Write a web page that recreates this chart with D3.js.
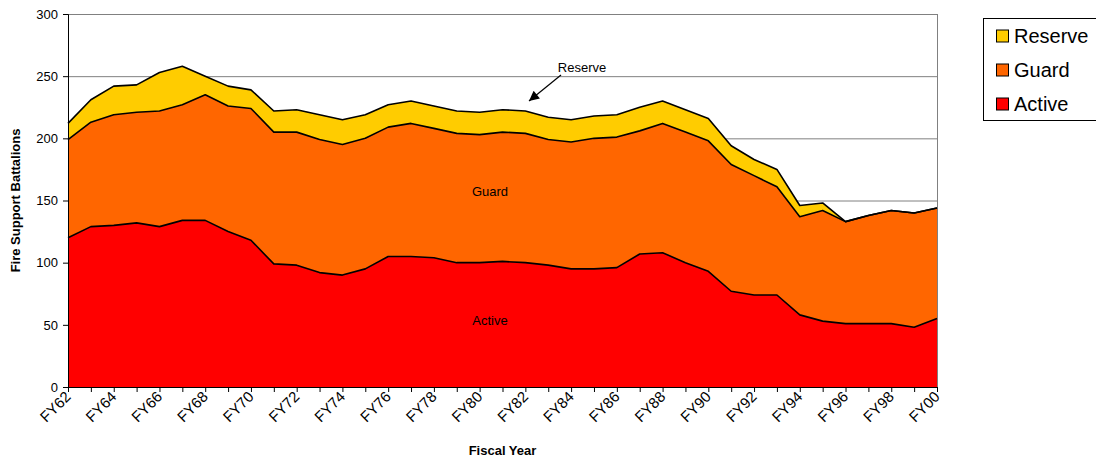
<!DOCTYPE html>
<html>
<head>
<meta charset="utf-8">
<script src="https://cdn.jsdelivr.net/npm/d3@7"></script>
<style>
  html, body { margin: 0; padding: 0; background: #fff; }
  svg { display: block; font-family: Arial, "Liberation Sans", sans-serif; }
</style>
</head>
<body>
<svg id="chart" width="1096" height="460"></svg>
<script>
const years = ["FY62","FY63","FY64","FY65","FY66","FY67","FY68","FY69","FY70","FY71",
  "FY72","FY73","FY74","FY75","FY76","FY77","FY78","FY79","FY80","FY81",
  "FY82","FY83","FY84","FY85","FY86","FY87","FY88","FY89","FY90","FY91",
  "FY92","FY93","FY94","FY95","FY96","FY97","FY98","FY99","FY00"];
const active = [120,129,130,132,129,134,134,125,118,99,
  98,92,90,95,105,105,104,100,100,101,
  100,98,95,95,96,107,108,100,93,77,
  74,74,58,53,51,51,51,48,55];
const guard = [79,84,89,89,93,93,101,101,106,106,
  107,107,105,105,104,107,104,104,103,104,
  104,101,102,105,105,99,104,105,105,102,
  96,87,79,89,82,87,91,92,89];
const reserve = [13,18,23,22,31,31,15,16,15,17,
  18,20,20,19,18,18,18,18,18,18,
  18,18,18,18,18,19,18,18,18,15,
  13,14,9,6,0,0,0,0,0];
const seriesNames = ["Active","Guard","Reserve"];
const seriesColors = ["#FF0000","#FF6600","#FFCC00"];
const yTicks = [0,50,100,150,200,250,300];
const xLabelYears = years.filter((d,i) => i % 2 === 0);

const svg = d3.select("#chart");
const L = 68, R = 937, T = 14, B = 387;

const x = d3.scalePoint().domain(years).range([L, R]);
const y = d3.scaleLinear().domain([0, 300]).range([B, T]);

const rows = years.map((yr, i) => ({year: yr, Active: active[i], Guard: guard[i], Reserve: reserve[i]}));
const stacked = d3.stack().keys(seriesNames)(rows);

// gridlines
svg.append("g").selectAll("line").data(yTicks.filter(v => v > 0)).join("line")
  .attr("x1", L).attr("x2", R)
  .attr("y1", d => y(d) + 0.5).attr("y2", d => y(d) + 0.5)
  .attr("stroke", "#808080").attr("stroke-width", 1);
svg.append("line").attr("x1", R + 0.5).attr("x2", R + 0.5).attr("y1", T).attr("y2", B)
  .attr("stroke", "#808080").attr("stroke-width", 1);

// areas
const area = d3.area().x(d => x(d.data.year)).y0(d => y(d[0])).y1(d => y(d[1]));
const topLine = d3.line().x(d => x(d.data.year)).y(d => y(d[1]));
const gA = svg.append("g");
stacked.forEach((s, k) => {
  gA.append("path").attr("d", area(s)).attr("fill", seriesColors[k]);
});
stacked.forEach((s, k) => {
  gA.append("path").attr("d", topLine(s)).attr("fill", "none")
    .attr("stroke", "#000").attr("stroke-width", 1.6).attr("stroke-linejoin", "round");
});

// axes
const yAxis = d3.axisLeft(y).tickValues(yTicks).tickSize(5).tickPadding(5).tickFormat(d3.format("d"));
const gy = svg.append("g").attr("transform", `translate(${L},0)`).call(yAxis);
gy.select(".domain").attr("stroke", "#000");
gy.selectAll("text").attr("font-size", 13).attr("font-family", "Arial, 'Liberation Sans', sans-serif").attr("fill", "#000");

const xAxis = d3.axisBottom(x).tickSize(5).tickFormat("");
const gx = svg.append("g").attr("transform", `translate(0,${B})`).call(xAxis);
gx.select(".domain").attr("stroke", "#000");

svg.append("g").selectAll("text").data(xLabelYears).join("text")
  .attr("transform", d => `translate(${x(d)},${B + 7}) rotate(-45)`)
  .attr("text-anchor", "end").attr("dy", "0.35em")
  .attr("font-size", 15).attr("fill", "#000")
  .text(d => d);

// axis titles
svg.append("text").attr("x", (L + R) / 2).attr("y", 455).attr("text-anchor", "middle")
  .attr("font-size", 13).attr("font-weight", "bold").text("Fiscal Year");
svg.append("text").attr("transform", `translate(20,${(T + B) / 2}) rotate(-90)`)
  .attr("text-anchor", "middle").attr("font-size", 13).attr("font-weight", "bold")
  .text("Fire Support Battalions");

// in-chart labels
svg.append("text").attr("x", 490).attr("y", 196).attr("text-anchor", "middle").attr("font-size", 13).text("Guard");
svg.append("text").attr("x", 490).attr("y", 325).attr("text-anchor", "middle").attr("font-size", 13).text("Active");
svg.append("text").attr("x", 582).attr("y", 72).attr("text-anchor", "middle").attr("font-size", 13).text("Reserve");

// arrow
svg.append("defs").append("marker").attr("id", "ah")
  .attr("viewBox", "0 0 10 10").attr("refX", 10).attr("refY", 5)
  .attr("markerWidth", 12).attr("markerHeight", 10).attr("markerUnits", "userSpaceOnUse")
  .attr("orient", "auto")
  .append("path").attr("d", "M0,0 L10,5 L0,10 Z").attr("fill", "#000");
svg.append("line").attr("x1", 561).attr("y1", 75).attr("x2", 529).attr("y2", 101)
  .attr("stroke", "#000").attr("stroke-width", 1.2).attr("marker-end", "url(#ah)");

// legend
const lg = svg.append("g");
lg.append("rect").attr("x", 983.5).attr("y", 18.5).attr("width", 130).attr("height", 102)
  .attr("fill", "#fff").attr("stroke", "#000").attr("stroke-width", 1);
const legendOrder = [2, 1, 0];
legendOrder.forEach((k, j) => {
  const cy = 36 + j * 34;
  lg.append("rect").attr("x", 996.5).attr("y", cy - 6).attr("width", 12).attr("height", 12)
    .attr("fill", seriesColors[k]).attr("stroke", "#000").attr("stroke-width", 1);
  lg.append("text").attr("x", 1014).attr("y", cy + 7).attr("font-size", 20).text(seriesNames[k]);
});
</script>
</body>
</html>
